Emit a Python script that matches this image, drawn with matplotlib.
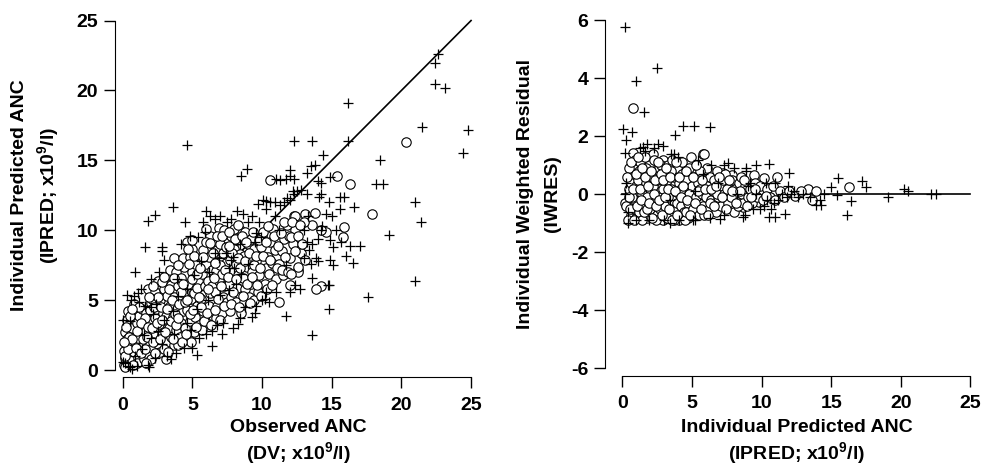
import numpy as np
import matplotlib
matplotlib.use("Agg")
import matplotlib.pyplot as plt

plt.rcParams['font.family'] = ['Liberation Sans', 'DejaVu Sans']
plt.rcParams['font.weight'] = 'bold'
plt.rcParams['mathtext.fontset'] = 'custom'
plt.rcParams['mathtext.rm'] = 'Liberation Sans:bold'
plt.rcParams['mathtext.bf'] = 'Liberation Sans:bold'
plt.rcParams['mathtext.default'] = 'bf'
plt.rcParams['axes.unicode_minus'] = False

# ---- left panel: observed (DV) vs individual predicted (IPRED) ----
dv_ipred_circ = [
    (0.1,0.4),(0.2,0.9),(0.1,1.4),(0.3,1.9),(0.2,2.7),(0.4,0.6),(0.5,1.2),(0.3,2.2),(0.6,2.6),(0.4,4.2),
    (0.5,3.2),(0.2,0.2),(0.6,1.7),(0.6,0.9),(0.3,3.6),
    (0.8,1.3),(0.9,2.0),(0.7,3.0),(1.0,3.4),(0.9,4.1),(1.1,0.9),(1.2,1.6),(1.3,2.6),(1.2,3.9),(1.4,4.4),
    (1.0,0.5),(1.5,1.9),(1.4,3.0),(0.8,4.7),(1.5,0.8),(1.1,2.3),
    (1.7,1.2),(1.8,2.1),(1.7,2.8),(1.9,3.4),(1.7,4.1),(2.0,4.8),(1.8,5.8),(2.1,1.6),(2.2,2.6),(2.3,3.7),
    (2.4,4.4),(2.3,5.6),(2.5,6.4),(2.0,0.8),(2.5,1.9),(2.4,3.1),(2.1,5.1),(1.6,3.7),
    (2.7,1.3),(2.8,2.5),(2.6,3.3),(2.9,4.1),(2.7,5.0),(3.0,5.8),(2.8,6.3),(3.1,0.8),(3.2,2.0),(3.3,3.0),
    (3.1,3.9),(3.4,4.6),(3.2,5.3),(3.5,6.1),(3.3,6.8),(3.5,2.4),(3.0,1.5),(3.4,7.2),
    (3.7,1.8),(3.8,2.9),(3.6,3.8),(3.9,4.4),(3.7,5.2),(4.0,6.0),(3.8,7.0),(3.7,8.0),(4.1,2.4),(4.2,3.4),
    (4.3,4.2),(4.1,5.0),(4.4,5.6),(4.2,6.6),(4.4,7.4),(4.5,3.0),(4.3,8.0),(4.0,1.8),
    (4.7,2.3),(4.8,3.5),(4.6,4.3),(4.9,5.1),(4.7,6.2),(5.0,7.0),(4.8,8.1),(4.6,9.2),(5.1,2.7),(5.2,3.8),
    (5.3,4.6),(5.1,5.5),(5.4,6.4),(5.2,7.6),(5.0,8.7),(5.5,3.2),(5.3,5.9),(4.9,2.0),
    (5.7,2.9),(5.8,4.2),(5.6,5.1),(5.9,6.0),(5.7,6.9),(6.0,7.6),(5.8,8.6),(6.1,3.5),(6.2,4.6),(6.3,5.5),
    (6.1,6.4),(6.4,7.2),(6.2,8.1),(6.5,9.0),(6.3,9.6),(6.0,10.1),(6.5,3.9),(6.4,6.0),
    (6.7,3.7),(6.8,4.6),(6.6,5.6),(6.9,6.4),(6.7,7.1),(7.0,7.8),(6.8,8.6),(6.9,10.2),(7.1,4.1),(7.2,5.2),
    (7.3,6.0),(7.1,6.9),(7.4,7.7),(7.2,8.4),(7.5,9.3),(7.3,10.0),(7.5,4.9),(7.0,9.0),
    (7.7,4.2),(7.8,5.2),(7.6,6.2),(7.9,7.0),(7.7,7.9),(8.0,8.7),(7.8,9.6),(8.1,4.9),(8.2,5.9),(8.3,6.8),
    (8.1,7.6),(8.4,8.3),(8.2,9.3),(8.4,10.0),(8.5,4.1),(8.0,10.1),
    (8.7,4.9),(8.8,5.8),(8.6,6.6),(8.9,7.4),(8.7,8.2),(9.0,9.0),(8.8,9.9),(9.1,5.2),(9.2,6.2),(9.3,7.0),
    (9.1,7.9),(9.4,8.7),(9.2,9.4),(9.5,6.6),(9.4,5.0),
    (9.7,5.6),(9.8,6.8),(9.6,7.8),(9.9,8.8),(10.0,9.6),(10.2,6.2),(10.3,7.3),(10.4,8.1),(10.6,9.2),(10.8,10.1),
    (10.5,6.9),(10.7,7.7),(10.9,8.6),(11.0,6.5),(10.1,9.9),
    (11.2,7.6),(11.4,8.5),(11.6,9.4),(11.8,10.4),(12.0,8.0),(12.2,9.0),(12.4,10.0),(12.6,7.2),(12.8,8.4),
    (11.5,6.8),(12.3,11.0),(11.9,9.6),
    (20.3,16.3),(10.6,13.6),(15.4,13.9),(16.3,13.35),(17.9,11.2),(13.8,11.25),(13.1,11.2),(14.6,9.9),
    (14.2,10.0),(15.9,10.25),(15.8,9.5),(13.6,10.4),(13.0,10.6),(12.4,11.0),(11.6,10.6),(14.2,6.0),
    (13.9,5.8),(11.2,4.9),(12.0,6.1),(12.6,7.0),(13.1,7.9),(12.6,7.4),
    # second layer of the dense cloud
    (0.15,1.0),(0.35,1.5),(0.45,2.4),(0.25,3.1),(0.55,3.9),(0.7,2.2),(0.75,0.4),(0.95,1.6),(1.05,2.8),
    (1.15,4.5),(1.3,3.4),(1.35,1.2),(1.45,2.2),(0.65,4.4),(0.1,2.0),
    (1.6,1.5),(1.75,2.4),(1.85,3.1),(1.95,4.3),(2.1,3.0),(2.15,2.0),(2.25,4.5),(2.35,1.2),(2.45,3.4),
    (2.55,5.2),(2.65,2.2),(2.75,4.5),(2.85,3.6),(2.95,6.7),(2.2,6.0),(1.9,5.2),(1.65,0.5),
    (3.05,2.7),(3.15,4.4),(3.25,1.3),(3.35,5.8),(3.45,3.5),(3.55,5.0),(3.65,6.6),(3.75,4.0),(3.85,3.2),
    (3.95,7.5),(4.05,4.7),(4.15,5.6),(4.25,2.0),(4.35,6.2),(4.45,4.9),(3.6,2.2),(4.0,3.7),
    (4.55,2.6),(4.65,5.0),(4.75,7.6),(4.85,4.0),(4.95,6.5),(5.05,4.3),(5.15,8.2),(5.25,3.1),(5.35,6.9),
    (5.45,5.2),(5.55,7.3),(5.65,4.5),(5.75,8.1),(5.85,3.5),(5.95,9.2),(5.0,9.3),(4.7,8.7),
    (6.05,4.1),(6.15,5.8),(6.25,9.1),(6.35,3.2),(6.45,8.4),(6.55,6.6),(6.65,4.3),(6.75,9.6),(6.85,5.1),
    (6.95,7.5),(7.05,6.0),(7.15,9.6),(7.25,4.6),(7.35,7.2),(7.45,8.8),(6.6,7.7),(7.0,3.6),
    (7.55,6.7),(7.65,9.9),(7.75,4.7),(7.85,8.4),(7.95,5.6),(8.05,9.4),(8.15,6.5),(8.25,8.0),(8.35,4.5),
    (8.45,7.3),(8.55,9.6),(8.65,5.3),(8.75,7.8),(8.85,9.2),(8.95,6.2),(7.6,8.9),(8.3,10.4),
    (9.05,8.4),(9.15,4.8),(9.25,6.7),(9.35,9.9),(9.45,7.5),(9.55,8.2),(9.65,6.1),(9.75,9.3),(9.85,7.3),
    (9.95,5.3),(10.05,8.2),(10.25,9.2),(10.35,5.8),(10.45,10.3),(10.55,7.9),(10.75,6.1),(10.85,9.6),(11.05,7.3),
    (11.15,8.9),(11.35,9.8),(11.45,7.2),(11.65,8.1),(11.85,7.0),(12.05,9.5),(12.15,10.6),(12.35,8.5),
    (12.55,9.6),(12.75,10.4),(12.9,9.0),(12.1,6.9),
]

dv_ipred_plus = [
    (4.6,16.1),(16.2,16.4),(16.2,19.1),(12.3,16.4),(13.6,16.4),(21.5,17.4),(24.8,17.2),(24.4,15.5),
    (22.4,20.5),(23.1,20.2),(22.4,22.0),(22.6,22.6),(18.5,15.0),(18.2,13.3),(18.7,13.3),(21.0,12.0),
    (21.4,10.6),(19.1,9.7),(21.0,6.4),(17.6,5.2),(13.6,2.5),(14.8,4.4),(8.9,14.4),(8.5,13.9),(3.6,11.7),
    (1.8,10.7),(2.3,11.1),(1.6,8.8),(2.8,8.8),(0.9,7.0),(17.0,8.9),(16.5,7.7),(16.3,8.9),(16.6,11.7),
    (15.6,12.4),(15.9,12.4),(15.6,11.5),(14.9,13.8),(14.4,15.4),(13.8,14.7),(14.9,9.3),(14.9,7.9),
    (15.1,7.5),(14.8,6.1),(14.0,7.8),(13.6,6.6),(14.2,10.0),(14.2,12.6),(14.8,12.0),(12.3,13.7),
    (13.2,14.1),(11.7,13.7),(12.0,14.3),(12.2,12.8),(10.3,12.1),(10.9,12.0),(11.7,3.9),(12.0,5.6),
    (11.7,7.5),(12.4,6.1),(10.2,5.1),(10.3,5.6),(9.5,4.1),(8.4,3.7),(7.9,3.0),(7.1,2.6),(6.4,1.7),
    (5.3,1.1),(1.9,0.24),(0.5,0.24),(0.0,0.6),(0.0,3.6),(0.3,5.4),
    (0.2,0.5),(0.5,3.5),(0.8,5.3),(1.3,5.8),(1.0,0.3),(1.5,2.5),(2.0,6.5),(2.6,7.0),(2.2,4.0),(3.0,7.9),
    (2.8,8.5),(3.5,0.8),(3.2,1.0),(3.9,6.5),(4.2,9.0),(4.5,10.6),(4.8,9.6),(5.0,1.6),(5.4,9.5),(5.8,10.6),
    (6.0,11.4),(6.3,11.0),(5.5,2.3),(6.0,2.6),(6.4,2.8),(6.8,3.2),(7.2,3.4),(7.5,10.6),(7.0,11.0),
    (7.8,10.8),(8.2,11.4),(8.6,11.2),(8.3,3.3),(8.8,4.5),(9.0,10.6),(9.3,11.0),(9.6,9.8),(9.8,10.6),
    (9.3,3.8),(9.6,4.6),(10.0,5.0),(10.3,11.5),(10.6,12.0),(10.9,11.0),(10.5,4.9),(11.0,5.6),(11.3,11.8),
    (11.6,12.0),(11.8,12.3),(11.2,10.0),(12.0,12.2),(12.3,12.6),(12.5,12.8),(12.8,12.9),(13.0,8.0),
    (13.2,9.2),(13.4,8.6),(13.0,10.0),(13.6,9.0),(13.3,11.0),(12.7,5.8),(13.9,8.0),(13.5,7.6),(14.0,9.4),
    (14.3,10.3),(14.6,11.2),(14.2,13.4),(15.0,11.0),(15.3,10.0),(15.7,9.2),(16.0,8.2),(15.1,8.8),
    (14.7,6.1),(9.9,9.5),(9.5,9.2),(8.4,9.0),(7.6,7.3),(6.9,8.0),(6.6,8.4),(6.2,7.0),(5.6,7.8),(5.1,6.8),
    (4.6,5.8),(4.0,5.3),(3.6,4.2),(3.0,3.6),(2.5,2.8),(2.0,2.3),(1.4,1.5),(0.9,1.0),(0.4,0.3),(0.7,0.1),
    (1.8,0.4),(2.3,0.9),(2.8,1.9),(3.7,2.6),(4.6,3.4),(5.3,4.4),(6.1,5.0),(7.0,5.4),(7.6,5.7),(8.1,6.2),
    (8.5,6.9),(9.0,7.6),(7.8,7.9),(7.4,8.4),(7.9,8.1),(8.0,7.3),(2.4,4.7),(2.0,4.5),(1.6,4.6),(1.2,4.9),
    (3.8,1.2),(4.4,1.6),(4.9,2.9),(5.9,9.9),(6.6,10.8),(0.6,5.0),(1.1,5.5),(9.7,11.9),(10.1,12.2),
    (11.0,13.7),(11.3,13.6),(12.0,13.9),(13.2,12.6),(14.1,12.4),(13.5,14.6),(14.0,13.5),
]

# ---- right panel: IPRED vs IWRES ----
ipred_iwres_circ = [
    (0.74,2.97),(0.79,1.44),(5.8,1.39),(5.9,1.39),(4.9,1.28),(2.2,1.39),(2.9,1.18),(4.0,1.01),(16.3,0.24),
    (13.3,0.18),(13.9,0.13),(13.6,-0.2),(11.1,0.61),(10.2,0.55),(9.45,0.67),(9.8,-0.25),(10.95,0.13),
    (10.1,0.06),(7.9,0.67),(7.2,0.24),(7.5,-0.2),(7.9,-0.52),(6.05,0.49),(6.05,0.13),(6.0,-0.37),
    (4.8,-0.48),(4.7,-0.83),(4.1,-0.66),(4.1,-0.89),(2.58,-0.83),(2.0,-0.71),(1.27,-0.71),(1.1,-0.25),
    (0.19,-0.29),(2.58,0.72),(1.87,0.78),(1.03,0.84),(1.39,1.13),(1.5,0.49),(1.63,0.09),(1.03,0.09),
    (3.66,0.38),(3.66,-0.14),(2.94,-0.31),(3.9,0.78),(4.98,0.84),(5.5,-0.02),(4.86,0.59),(6.7,0.01),
    (7.25,0.75),(8.2,0.32),(8.3,-0.25),(8.7,-0.45),(6.05,0.9),(5.3,1.01),(4.6,-0.08),
    (0.3,-0.4),(0.5,0.2),(0.6,-0.7),(0.7,0.6),(0.8,1.0),(0.9,-0.2),(0.4,-0.9),(0.6,0.4),(0.8,-0.5),
    (1.0,0.3),(0.5,0.9),(0.9,1.2),(0.7,-0.1),(1.0,-0.8),
    (1.1,0.5),(1.2,-0.6),(1.3,1.1),(1.4,0.0),(1.5,0.7),(1.6,-0.3),(1.7,0.4),(1.8,-0.8),(1.9,1.0),(2.0,0.2),
    (1.2,0.8),(1.4,-0.9),(1.6,1.3),(1.8,-0.1),(2.0,-0.5),(1.3,-0.4),(1.7,0.9),
    (2.1,0.6),(2.2,-0.3),(2.3,1.2),(2.4,0.1),(2.5,-0.7),(2.6,0.9),(2.7,0.4),(2.8,-0.1),(2.9,-0.9),(3.0,0.7),
    (2.2,0.3),(2.5,0.5),(2.7,-0.5),(2.9,0.2),(2.4,-0.9),(2.8,1.0),
    (3.1,-0.4),(3.2,0.5),(3.3,1.0),(3.4,-0.7),(3.5,0.2),(3.6,-0.2),(3.7,0.6),(3.8,-0.5),(3.9,0.9),(4.0,0.1),
    (3.3,-0.1),(3.5,0.8),(3.7,-0.9),(3.9,-0.3),(3.2,-0.8),(3.6,1.2),
    (4.1,0.4),(4.2,-0.4),(4.3,0.7),(4.4,-0.6),(4.5,0.1),(4.6,0.5),(4.7,-0.3),(4.8,0.9),(4.9,-0.1),(5.0,0.3),
    (4.3,1.1),(4.5,-0.9),(4.8,0.0),(4.2,0.2),(4.6,-0.6),
    (5.1,-0.5),(5.2,0.6),(5.3,-0.1),(5.4,0.4),(5.5,-0.7),(5.6,0.8),(5.7,0.0),(5.8,-0.4),(5.9,0.5),(6.0,-0.1),
    (5.3,1.0),(5.6,0.2),(5.9,-0.7),
    (6.1,0.3),(6.2,-0.5),(6.3,0.6),(6.4,-0.2),(6.5,0.1),(6.6,0.5),(6.7,-0.6),(6.8,0.8),(6.9,-0.1),(7.0,0.3),
    (6.3,-0.3),(6.8,0.0),
    (7.1,-0.4),(7.2,0.5),(7.3,0.0),(7.4,0.7),(7.6,-0.3),(7.7,0.3),(7.8,-0.1),(7.9,0.5),(8.0,-0.6),(7.5,0.2),
    (8.1,0.2),(8.3,-0.4),(8.4,0.4),(8.6,0.0),(8.7,-0.3),(8.8,0.3),(9.0,-0.1),(8.5,0.6),
    (9.2,0.2),(9.3,-0.3),(9.5,0.4),(9.7,-0.1),(9.9,0.3),(10.1,-0.2),(10.4,0.2),(10.6,-0.1),(10.8,0.3),
    (11.3,0.1),(11.6,-0.1),(12.0,0.1),(12.4,-0.05),(12.8,0.1),
    # second layer
    (0.35,0.6),(0.45,-0.1),(0.55,-0.5),(0.65,1.1),(0.75,0.2),(0.85,-0.9),(0.95,0.7),(1.05,-0.4),(1.15,1.3),
    (1.25,0.2),(1.35,-0.2),(1.45,0.9),(1.55,-0.6),(1.65,0.6),(1.75,-0.5),(1.85,0.3),(1.95,-0.3),(2.05,0.8),
    (2.15,-0.8),(2.25,0.0),(2.35,0.5),(2.45,-0.4),(2.55,1.1),(2.65,-0.2),(2.75,0.7),(2.85,-0.7),(2.95,0.5),
    (3.05,-0.1),(3.15,0.9),(3.25,0.2),(3.35,-0.5),(3.45,0.6),(3.55,-0.9),(3.75,0.1),(3.85,1.1),(3.95,-0.7),
    (4.05,0.6),(4.25,-0.1),(4.35,0.3),(4.55,0.8),(4.65,-0.2),(4.85,-0.7),(5.05,0.6),(5.25,-0.3),(5.45,0.1),
    (5.65,-0.5),(5.75,0.5),(5.95,0.2),(6.15,-0.7),(6.35,0.2),(6.55,-0.4),(6.75,0.3),(6.95,0.6),(7.15,-0.1),
    (7.45,-0.5),(7.65,0.5),(7.85,0.1),(8.15,-0.3),(8.45,0.1),(8.75,0.5),(8.95,-0.4),(9.25,-0.1),(9.55,0.2),
    (10.3,-0.05),(11.0,-0.2),
]

ipred_iwres_plus = [
    (0.19,5.78),(2.46,4.34),(0.96,3.91),(1.55,2.85),(0.07,2.24),(0.67,2.16),(0.26,1.87),(0.19,1.44),
    (3.78,2.05),(4.33,2.36),(5.14,2.36),(6.29,2.31),(1.5,1.64),(1.75,1.74),(2.58,1.74),(2.94,1.67),
    (7.6,1.07),(8.9,0.9),(9.6,1.0),(10.55,1.05),(12.0,0.72),(15.5,0.58),(15.0,0.24),(17.2,0.47),
    (17.5,0.24),(19.1,-0.10),(20.2,0.17),(20.5,0.13),(22.2,0.0),(22.5,0.0),(16.1,-0.71),(16.4,-0.22),
    (15.4,-0.02),(14.3,-0.37),(13.9,-0.37),(11.7,-0.68),(10.95,-0.79),(10.55,-0.79),(8.7,-0.79),
    (7.0,-0.86),(5.2,-0.9),(3.4,-0.98),(0.43,-1.0),
    (0.3,0.4),(0.4,-0.6),(0.2,0.0),(1.3,1.6),(1.6,1.5),(2.3,1.6),(3.5,1.4),(3.7,1.4),(4.0,1.3),(5.4,1.2),
    (5.8,0.7),(6.4,1.0),(7.3,1.0),(8.0,0.9),(8.9,0.8),(9.0,0.3),(9.2,0.4),(9.6,0.0),(9.9,-0.5),
    (10.2,-0.4),(10.4,-0.2),(10.7,-0.5),(10.9,-0.3),(11.2,-0.2),(11.5,0.0),(11.8,-0.1),(12.1,0.0),
    (12.3,0.1),(12.6,-0.1),(13.0,0.0),(13.5,-0.1),(14.2,-0.2),(14.5,0.0),(10.3,0.4),(11.0,0.4),
    (11.9,0.3),(8.8,-0.7),(9.4,-0.5),(7.3,-0.7),(6.3,-0.8),(5.1,-0.9),(4.1,-0.9),(3.0,-0.9),(1.9,-0.9),
    (1.0,-0.9),(3.4,-0.2),(5.2,0.1),(6.9,0.4),(8.2,0.0),
]

x_ticks = [0, 5, 10, 15, 20, 25]
y_ticks_left = [0, 5, 10, 15, 20, 25]
y_ticks_right = [-6, -4, -2, 0, 2, 4, 6]

fig = plt.figure(figsize=(9.83, 4.68), dpi=100)
ax1 = fig.add_axes([0.117, 0.194, 0.370, 0.777])
ax2 = fig.add_axes([0.6155, 0.197, 0.376, 0.772])


def style_axis(ax, xb, yb):
    for s in ['top', 'right']:
        ax.spines[s].set_visible(False)
    ax.spines['left'].set_bounds(*yb)
    ax.spines['bottom'].set_bounds(*xb)
    ax.tick_params(axis='both', length=8, width=1, labelsize=14)
    ax.tick_params(axis='x', pad=6)
    ax.tick_params(axis='y', pad=4)
    for lab in ax.get_xticklabels() + ax.get_yticklabels():
        lab.set_fontweight('bold')


circ_kw = dict(marker='o', s=46, facecolors='white', edgecolors='black', linewidths=0.8, zorder=3)
plus_kw = dict(marker='+', s=48, color='black', linewidths=0.9, zorder=4)

c = np.array(dv_ipred_circ)
p = np.array(dv_ipred_plus)
ax1.plot([0, 25], [0, 25], color='black', lw=1.2, zorder=2)
ax1.scatter(c[:, 0], c[:, 1], **circ_kw)
ax1.scatter(p[:, 0], p[:, 1], **plus_kw)
ax1.set_xlim(-0.55, 25.55)
ax1.set_ylim(-0.5, 25.5)
ax1.set_xticks(x_ticks)
ax1.set_yticks(y_ticks_left)
style_axis(ax1, (0, 25), (0, 25))

c2 = np.array(ipred_iwres_circ)
p2 = np.array(ipred_iwres_plus)
ax2.plot([0, 25], [0, 0], color='black', lw=1.2, zorder=2)
ax2.scatter(c2[:, 0], c2[:, 1], **circ_kw)
ax2.scatter(p2[:, 0], p2[:, 1], **plus_kw)
ax2.set_xlim(-1.24, 25.3)
ax2.set_ylim(-6.255, 6.2)
ax2.set_xticks(x_ticks)
ax2.set_yticks(y_ticks_right)
style_axis(ax2, (0, 25), (-6, 6))

lab_kw = dict(fontsize=14, fontweight='bold', ha='center', va='center')
W, H = 983, 468
fig.text(20 / W, 1 - 195 / H, 'Individual Predicted ANC', rotation=90, **lab_kw)
fig.text(48 / W, 1 - 195 / H, '(IPRED; x10$^9$/l)', rotation=90, **lab_kw)
fig.text(298 / W, 1 - 428 / H, 'Observed ANC', **lab_kw)
fig.text(298 / W, 1 - 453 / H, '(DV; x10$^9$/l)', **lab_kw)
fig.text(525 / W, 1 - 194 / H, 'Individual Weighted Residual', rotation=90, **lab_kw)
fig.text(553 / W, 1 - 194 / H, '(IWRES)', rotation=90, **lab_kw)
fig.text(797 / W, 1 - 428 / H, 'Individual Predicted ANC', **lab_kw)
fig.text(797 / W, 1 - 453 / H, '(IPRED; x10$^9$/l)', **lab_kw)

fig.savefig('out.png', dpi=100)
